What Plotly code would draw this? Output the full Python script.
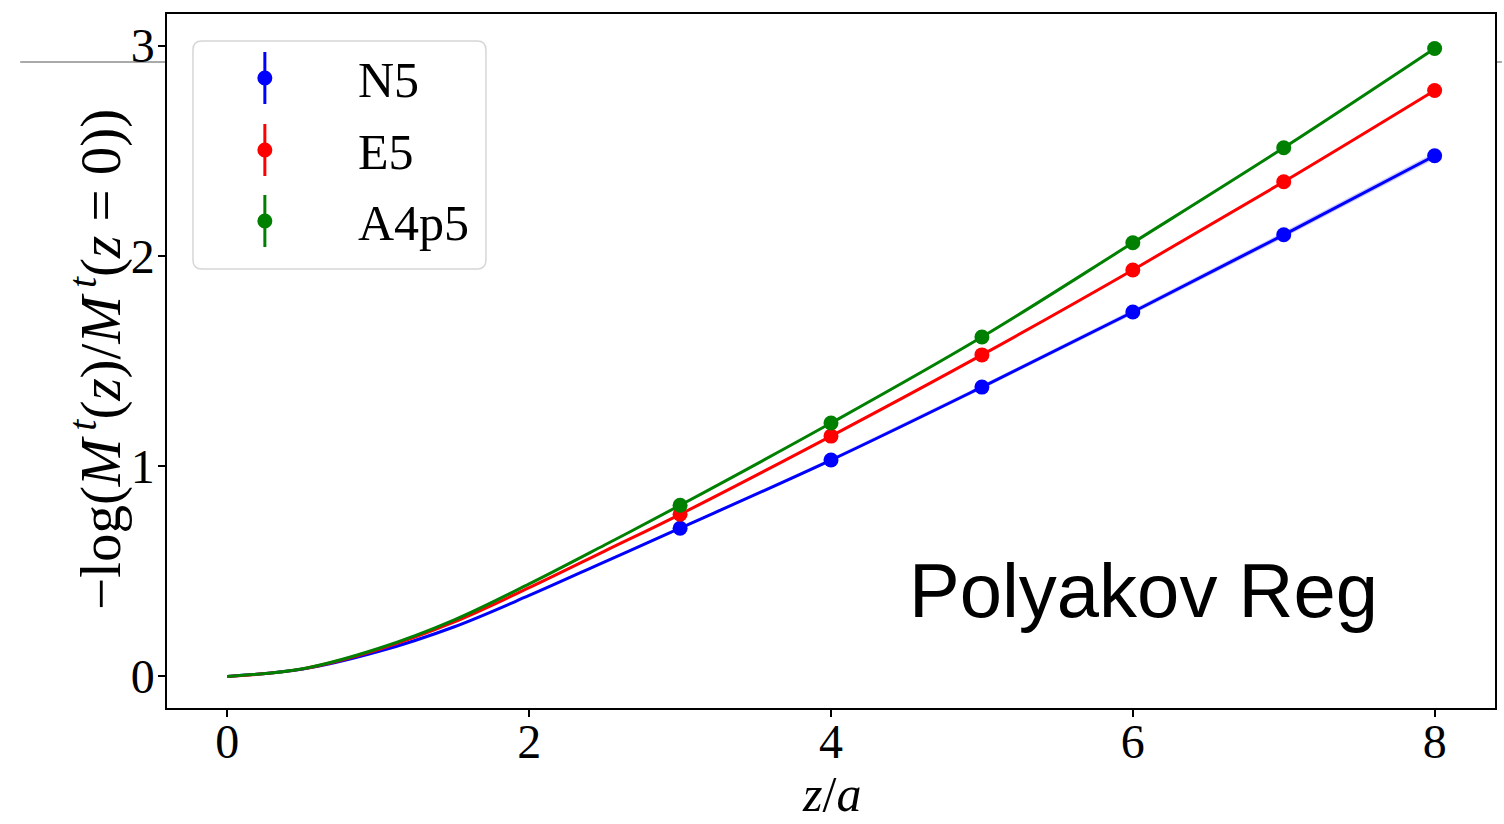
import plotly.graph_objects as go

# ---------------- data ----------------
z_pts = [3, 4, 5, 6, 7, 8]
N5_pts = [0.705, 1.029, 1.376, 1.733, 2.100, 2.476]
E5_pts = [0.771, 1.143, 1.529, 1.933, 2.352, 2.786]
A4p5_pts = [0.814, 1.205, 1.614, 2.062, 2.514, 2.986]

z_fit = [0, 0.5, 1, 1.5, 2, 2.5, 3, 4, 5, 6, 7, 8]
N5_fit = [0, 0.035, 0.118, 0.235, 0.385, 0.545, 0.705, 1.029, 1.376, 1.733, 2.100, 2.476]
E5_fit = [0, 0.036, 0.128, 0.258, 0.422, 0.596, 0.771, 1.143, 1.529, 1.933, 2.352, 2.786]
A4p5_fit = [0, 0.037, 0.133, 0.268, 0.440, 0.625, 0.814, 1.205, 1.614, 2.062, 2.514, 2.986]
N5_band = [0, 0.001, 0.002, 0.003, 0.004, 0.005, 0.006, 0.008, 0.010, 0.012, 0.014, 0.016]

series = [
    ("N5", "blue", N5_pts, N5_fit),
    ("E5", "red", E5_pts, E5_fit),
    ("A4p5", "green", A4p5_pts, A4p5_fit),
]

x_ticks = [0, 2, 4, 6, 8]
y_ticks = [0, 1, 2, 3]

# ---------------- figure ----------------
W, H = 1504, 824
ML, MR, MT, MB = 167, 7, 14, 116
PW, PH = W - ML - MR, H - MT - MB


def px(x):
    return (x - ML) / PW


def py(y):
    return (H - MB - y) / PH


fig = go.Figure()

# error band for N5 fit
fig.add_trace(go.Scatter(
    x=z_fit + z_fit[::-1],
    y=[v + e for v, e in zip(N5_fit, N5_band)] + [v - e for v, e in zip(N5_fit, N5_band)][::-1],
    fill="toself", fillcolor="rgba(0,0,255,0.2)", line=dict(width=0),
    hoverinfo="skip", showlegend=False,
))

for name, col, pts, fit in series:
    fig.add_trace(go.Scatter(
        x=z_fit, y=fit, mode="lines",
        line=dict(color=col, width=3, shape="spline", smoothing=1.0),
        showlegend=False, hoverinfo="skip",
    ))
for name, col, pts, fit in series:
    fig.add_trace(go.Scatter(
        x=z_pts, y=pts, mode="markers", name=name,
        marker=dict(color=col, size=15),
        showlegend=False,
    ))

serif = "Liberation Serif"
axis_common = dict(
    showline=True, linecolor="black", linewidth=1.5, mirror=True,
    ticks="outside", ticklen=7, tickwidth=1.5, tickcolor="black",
    showgrid=False, zeroline=False,
    tickfont=dict(family=serif, size=48, color="black"),
)

fig.update_xaxes(range=[-0.4, 8.4], tickvals=x_ticks, ticklabelstandoff=-16, **axis_common)
fig.update_yaxes(range=[-0.15, 3.15], tickvals=y_ticks, ticklabelstandoff=-6, **axis_common)

shapes = []
# stray horizontal line outside the axes
for xa, xb in [(20, ML), (ML + PW, W)]:
    shapes.append(dict(type="line", xref="paper", yref="paper",
                       x0=px(xa), x1=px(xb), y0=py(62), y1=py(62),
                       line=dict(color="#555555", width=1), layer="below"))

# legend box (rounded)
bx0, by0, bw, bh, r = 193, 41, 293, 228, 9
path = (f"M {r},0 L {bw - r},0 Q {bw},0 {bw},{-r} L {bw},{-(bh - r)} "
        f"Q {bw},{-bh} {bw - r},{-bh} L {r},{-bh} Q 0,{-bh} 0,{-(bh - r)} "
        f"L 0,{-r} Q 0,0 {r},0 Z")
shapes.append(dict(type="path", xref="paper", yref="paper",
                   xsizemode="pixel", ysizemode="pixel",
                   xanchor=px(bx0), yanchor=py(by0), path=path,
                   fillcolor="rgba(255,255,255,0.8)",
                   line=dict(color="#d6d6d6", width=1.5)))

annotations = []
row_y = [78, 150, 221]
for (name, col, pts, fit), yc in zip(series, row_y):
    shapes.append(dict(type="line", xref="paper", yref="paper",
                       x0=px(265), x1=px(265), y0=py(yc - 26), y1=py(yc + 26),
                       line=dict(color=col, width=3)))
    shapes.append(dict(type="circle", xref="paper", yref="paper",
                       xsizemode="pixel", ysizemode="pixel",
                       xanchor=px(265), yanchor=py(yc),
                       x0=-7.5, x1=7.5, y0=-7.5, y1=7.5,
                       fillcolor=col, line=dict(width=0)))
    annotations.append(dict(text=name, xref="paper", yref="paper",
                            x=px(356), y=py(yc + 2), xanchor="left", yanchor="middle",
                            showarrow=False,
                            font=dict(family=serif, size=50, color="black")))

# axis titles
annotations.append(dict(text="<i>z</i>/<i>a</i>", xref="paper", yref="paper",
                        x=px(832), y=py(794), xanchor="center", yanchor="middle",
                        showarrow=False, font=dict(family=serif, size=50, color="black")))
annotations.append(dict(
    text="−log(<i>M</i><sup>\u2009<i>t</i></sup>(<i>z</i>)/<i>M</i><sup>\u2009<i>t</i></sup>(<i>z</i> = 0))",
    xref="paper", yref="paper", x=px(96), y=py(360), xanchor="center", yanchor="middle",
    textangle=-90, showarrow=False, font=dict(family=serif, size=57, color="black")))

# panel label
annotations.append(dict(text="Polyakov Reg", xref="paper", yref="paper",
                        x=px(1145), y=py(590), xanchor="center", yanchor="middle",
                        showarrow=False,
                        font=dict(family="Liberation Sans", size=76, color="black")))

fig.update_layout(
    width=W, height=H,
    margin=dict(l=ML, r=MR, t=MT, b=MB),
    paper_bgcolor="white", plot_bgcolor="white",
    showlegend=False, shapes=shapes, annotations=annotations,
)

fig.write_html("out.html")
